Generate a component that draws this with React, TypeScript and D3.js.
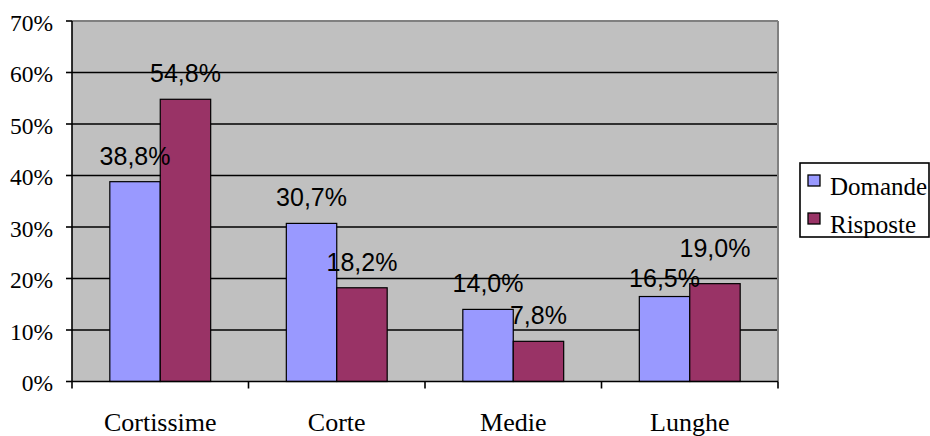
import React from "react";
import * as d3 from "d3";

const categories = ["Cortissime", "Corte", "Medie", "Lunghe"];
const seriesNames = ["Domande", "Risposte"];
const domande = [38.8, 30.7, 14.0, 16.5];
const risposte = [54.8, 18.2, 7.8, 19.0];
const yTicks = [0, 10, 20, 30, 40, 50, 60, 70];

const colors = ["#9999FF", "#993366"];
// label nudges (px) for manually moved labels in the reference
const labelNudge: Record<string, number[]> = { Lunghe: [7, -10] };

export default function App() {
  const W = 930, H = 436;
  const left = 72, right = 778, top = 21, bottom = 381.5;
  const x = d3.scaleBand<string>().domain(categories).range([left, right]).paddingInner(0).paddingOuter(0);
  const y = d3.scaleLinear().domain([0, 70]).range([bottom, top]);
  const bw = x.bandwidth() / 3.5;
  const off = (x.bandwidth() - 2 * bw) / 2;
  const series = [domande, risposte];
  const fmt = (v: number) => v.toFixed(1).replace(".", ",") + "%";
  const serif = "'Liberation Serif', 'Times New Roman', serif";

  return (
    <svg width={W} height={H} style={{ position: "absolute", left: 0, top: 0, background: "#fff" }}>
      <rect x={left} y={top} width={right - left} height={bottom - top} fill="#C0C0C0" />
      {yTicks.filter(t => t > 0 && t < 70).map(t => (
        <line key={t} x1={left} x2={right} y1={y(t)} y2={y(t)} stroke="#000" strokeWidth={1.3} />
      ))}
      <line x1={left} x2={right} y1={y(70)} y2={y(70)} stroke="#808080" strokeWidth={2} />
      <line x1={right} x2={right} y1={top} y2={bottom} stroke="#808080" strokeWidth={2} />
      {categories.map((c, i) =>
        series.map((s, k) => (
          <rect key={c + k} x={(x(c) as number) + off + k * bw} y={y(s[i])} width={bw} height={bottom - y(s[i])}
            fill={colors[k]} stroke="#000" strokeWidth={1.2} />
        ))
      )}
      {/* axes */}
      <line x1={left} x2={left} y1={top} y2={bottom} stroke="#000" strokeWidth={1.6} />
      <line x1={left} x2={right} y1={bottom} y2={bottom} stroke="#000" strokeWidth={1.6} />
      {yTicks.map(t => (
        <g key={t}>
          <line x1={left - 6} x2={left} y1={y(t)} y2={y(t)} stroke="#000" strokeWidth={1.6} />
          <text x={53} y={y(t) + 9.5} textAnchor="end" fontFamily={serif} fontSize={23.5} fill="#000">{t}%</text>
        </g>
      ))}
      {[...categories.map(c => x(c) as number), right].map((v, i) => (
        <line key={i} x1={v} x2={v} y1={bottom} y2={bottom + 7} stroke="#000" strokeWidth={1.6} />
      ))}
      {categories.map(c => (
        <text key={c} x={(x(c) as number) + x.bandwidth() / 2} y={430.5} textAnchor="middle"
          fontFamily={serif} fontSize={26} fill="#000">{c}</text>
      ))}
      {/* data labels */}
      {categories.map((c, i) =>
        series.map((s, k) => (
          <text key={"l" + c + k} x={(x(c) as number) + off + k * bw + bw / 2}
            y={y(s[i]) - 17 + (labelNudge[c] ? labelNudge[c][k] : 0)} textAnchor="middle"
            fontFamily="'Liberation Sans', Arial, sans-serif" fontSize={25} fill="#000">{fmt(s[i])}</text>
        ))
      )}
      {/* legend */}
      <rect x={800} y={163} width={129} height={74} fill="#fff" stroke="#000" strokeWidth={1.6} />
      {seriesNames.map((n, k) => (
        <g key={n}>
          <rect x={808} y={175 + k * 38} width={12} height={11} fill={colors[k]} stroke="#000" strokeWidth={1.3} />
          <text x={830} y={195 + k * 38} fontFamily={serif} fontSize={25} fill="#000">{n}</text>
        </g>
      ))}
    </svg>
  );
}
